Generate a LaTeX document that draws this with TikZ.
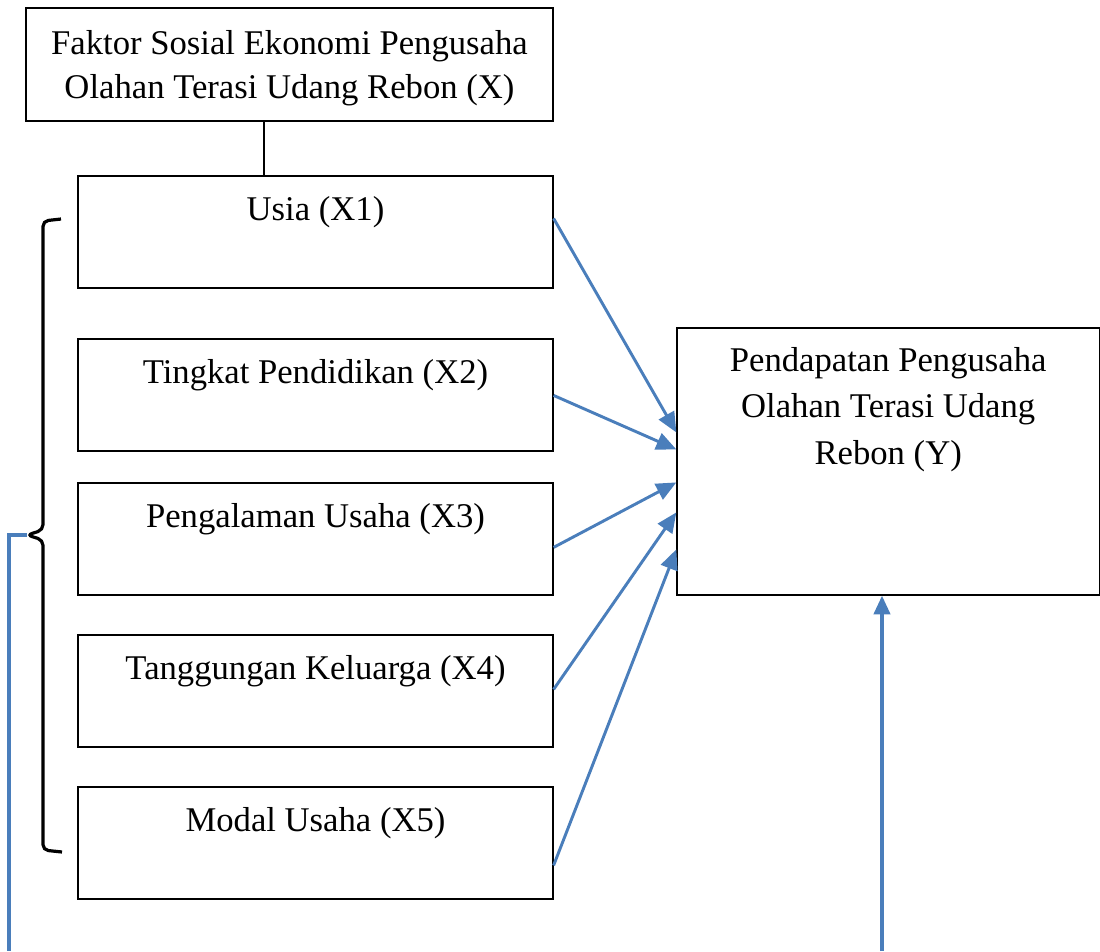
\documentclass[tikz,border=0pt]{standalone}
\usepackage{fontspec}
\setmainfont{Liberation Serif}
\usetikzlibrary{arrows.meta,calc}
\definecolor{wblue}{HTML}{4A7EBB}
\begin{document}
\begin{tikzpicture}[x=0.75pt,y=-0.75pt,
  box/.style={draw=black,line width=0.9pt,rectangle,inner sep=0pt},
  xbox/.style={box,minimum width=356.25pt,minimum height=84pt},
  txt/.style={font=\fontsize{26}{33}\selectfont},
  ytxt/.style={font=\fontsize{26}{35}\selectfont},
  toplab/.style={label={[txt,anchor=base,yshift=-34pt,inner sep=0pt]north:#1}},
  arr/.style={draw=wblue,line width=2.2pt,-{Triangle[length=15pt,width=13pt]}},
  varr/.style={draw=wblue,line width=2.9pt,-{Triangle[length=14pt,width=12pt]}},
  bline/.style={draw=wblue,line width=2.9pt}]
\useasboundingbox (0,0) rectangle (1100,951);
\node[box,minimum width=395.25pt,minimum height=84.75pt,
  label={[txt,align=center,anchor=center,yshift=-3pt,inner sep=0pt]center:Faktor Sosial Ekonomi Pengusaha\\Olahan Terasi Udang Rebon (X)}] (fx) at (289.5,64.5) {};
\node[xbox,toplab={Usia (X1)}] (x1) at (315.5,232) {};
\node[xbox,toplab={Tingkat Pendidikan (X2)}] (x2) at (315.5,395) {};
\node[xbox,toplab={Pengalaman Usaha (X3)}] (x3) at (315.5,539) {};
\node[xbox,toplab={Tanggungan Keluarga (X4)}] (x4) at (315.5,691) {};
\node[xbox,toplab={Modal Usaha (X5)}] (x5) at (315.5,843) {};
\node[box,minimum width=316.9pt,minimum height=200.25pt,
  label={[ytxt,align=center,anchor=north,yshift=-14.5pt,inner sep=0pt]north:Pendapatan Pengusaha\\Olahan Terasi Udang\\Rebon (Y)}] (y) at (888.2,461.5) {};
% connector top
\draw[line width=1.6pt] (fx.south -| 264,0) -- (x1.north -| 264,0);
% arrows
\draw[arr] ($(x1.north east)+(0,43)$) -- ($(y.north west)+(0,105)$);
\draw[arr] ($(x2.north east)+(0,57)$) -- ($(y.north west)+(0,122)$);
\draw[arr] ($(x3.north east)+(0,65)$) -- ($(y.north west)+(0,155)$);
\draw[arr] ($(x4.north east)+(0,55)$) -- ($(y.north west)+(0,185)$);
\draw[arr] ($(x5.north east)+(0,79)$) -- ($(y.north west)+(0,222)$);
% bottom arrow
\coordinate (bt) at (882,951);
\draw[varr] (bt) -- (bt |- y.south);
% brace
\coordinate (bA) at (61,219);
\coordinate (bTip) at (27,535);
\coordinate (bB) at (62,852);
\draw[line width=2.4pt,rounded corners=4pt]
  (bA) -- (43,221) -- (43,530) -- (bTip) -- (43,540) -- (43,850) -- (bB);
% blue line
\coordinate (bl) at (9,951);
\draw[bline] (bTip) -- (9,535) -- (bl);
\end{tikzpicture}
\end{document}
